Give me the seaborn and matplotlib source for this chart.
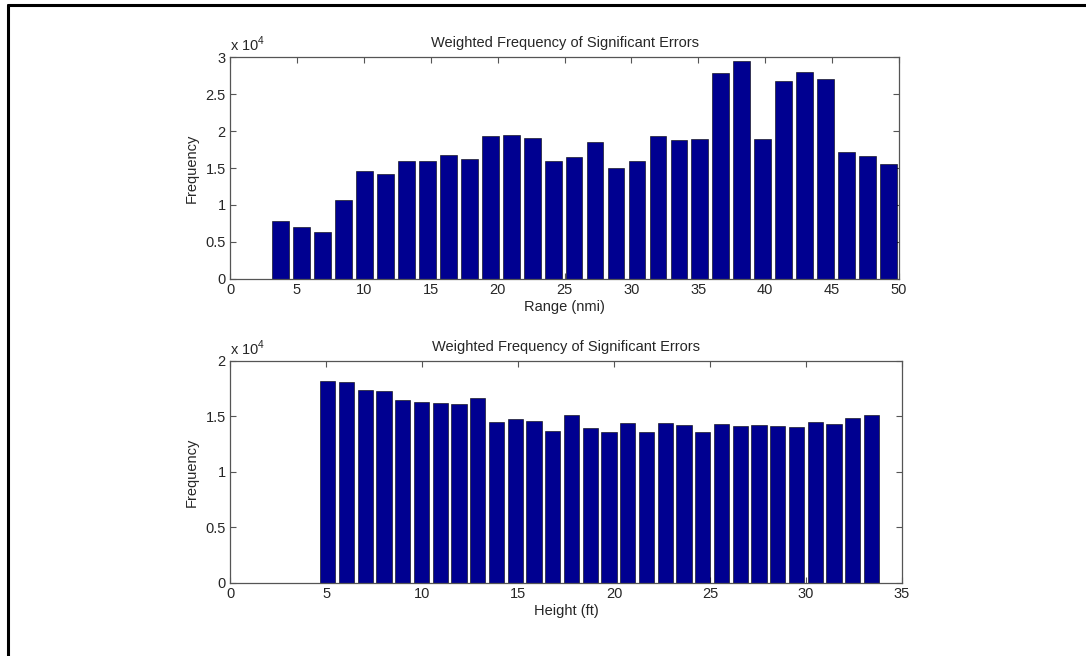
import numpy as np
import pandas as pd
import matplotlib
matplotlib.use('Agg')
import matplotlib.pyplot as plt
import seaborn as sns
from matplotlib.ticker import FuncFormatter

# bin centres and weighted counts
range_nmi = [3.783, 5.350, 6.917, 8.483, 10.050, 11.617, 13.183, 14.750, 16.317, 17.883,
             19.450, 21.017, 22.583, 24.150, 25.717, 27.283, 28.850, 30.417, 31.983, 33.550,
             35.117, 36.683, 38.250, 39.817, 41.383, 42.950, 44.517, 46.083, 47.650, 49.217]
range_freq = [7880, 7070, 6400, 10630, 14640, 14140, 15990, 15900, 16760, 16200,
              19280, 19500, 19100, 16000, 16440, 18510, 15050, 15990, 19320, 18740,
              18920, 27840, 29500, 18920, 26800, 27970, 27000, 17100, 16600, 15540]

height_ft = [5.088, 6.065, 7.042, 8.018, 8.995, 9.972, 10.948, 11.925, 12.902, 13.878,
             14.855, 15.832, 16.808, 17.785, 18.762, 19.738, 20.715, 21.692, 22.668, 23.645,
             24.622, 25.598, 26.575, 27.552, 28.528, 29.505, 30.482, 31.458, 32.435, 33.412]
height_freq = [18200, 18150, 17400, 17300, 16500, 16350, 16200, 16100, 16700, 14500,
               14760, 14580, 13710, 15090, 13920, 13560, 14400, 13620, 14400, 14250,
               13560, 14340, 14130, 14220, 14130, 14040, 14490, 14280, 14820, 15150]

df_range = pd.DataFrame({'range': range_nmi, 'freq': range_freq})
df_height = pd.DataFrame({'height': height_ft, 'freq': height_freq})

sns.set_style('white')
plt.rcParams['font.family'] = ['Liberation Sans', 'DejaVu Sans']
plt.rcParams['font.size'] = 10.5
plt.rcParams['mathtext.fontset'] = 'custom'
plt.rcParams['mathtext.rm'] = 'Liberation Sans'

bar_color = '#000090'
axis_color = '#555555'

fig = plt.figure(figsize=(10.86, 6.56), dpi=100)
ax1 = fig.add_axes([0.2118, 0.5747, 0.616, 0.3384])
ax2 = fig.add_axes([0.2118, 0.1113, 0.6188, 0.3384])

sns.barplot(data=df_range, x='range', y='freq', native_scale=True, orient='v',
            color=bar_color, saturation=1, width=0.8, edgecolor='black',
            linewidth=0.4, ax=ax1)
sns.barplot(data=df_height, x='height', y='freq', native_scale=True, orient='v',
            color=bar_color, saturation=1, width=0.82, edgecolor='black',
            linewidth=0.4, ax=ax2)

def fmt(v, pos):
    return '%g' % (v / 1e4)

setups = [(ax1, 50, 5, 30000, 5000, 'Range (nmi)'),
          (ax2, 35, 5, 20000, 5000, 'Height (ft)')]
for ax, xmax, xstep, ymax, ystep, xlab in setups:
    ax.set_xlim(0, xmax)
    ax.set_ylim(0, ymax)
    ax.set_xticks(np.arange(0, xmax + 1, xstep))
    ax.set_yticks(np.arange(0, ymax + 1, ystep))
    ax.yaxis.set_major_formatter(FuncFormatter(fmt))
    ax.xaxis.set_major_formatter(FuncFormatter(lambda v, p: '%g' % v))
    ax.tick_params(direction='in', length=4, width=0.8, color=axis_color,
                   top=True, right=True, bottom=True, left=True,
                   labelsize=10.5, pad=3)
    for sp in ax.spines.values():
        sp.set_visible(True)
        sp.set_color(axis_color)
        sp.set_linewidth(0.9)
    ax.set_xlabel(xlab, fontsize=10.5, labelpad=2)
    ax.set_ylabel('Frequency', fontsize=10.5, labelpad=5)
    ax.set_title('Weighted Frequency of Significant Errors', fontsize=10.5, pad=7)
    ax.text(0.0, 1.015, r'x 10$^{4}$', transform=ax.transAxes, ha='left',
            va='bottom', fontsize=10.5)

# black frame lines along top and left edge of the picture
fig.add_artist(plt.Line2D([0.0072, 1.0], [0.9924, 0.9924], color='black', lw=2.2,
                          transform=fig.transFigure))
fig.add_artist(plt.Line2D([0.0075, 0.0075], [0.0, 0.9924], color='black', lw=2.2,
                          transform=fig.transFigure))

fig.savefig('out.png', dpi=100)
